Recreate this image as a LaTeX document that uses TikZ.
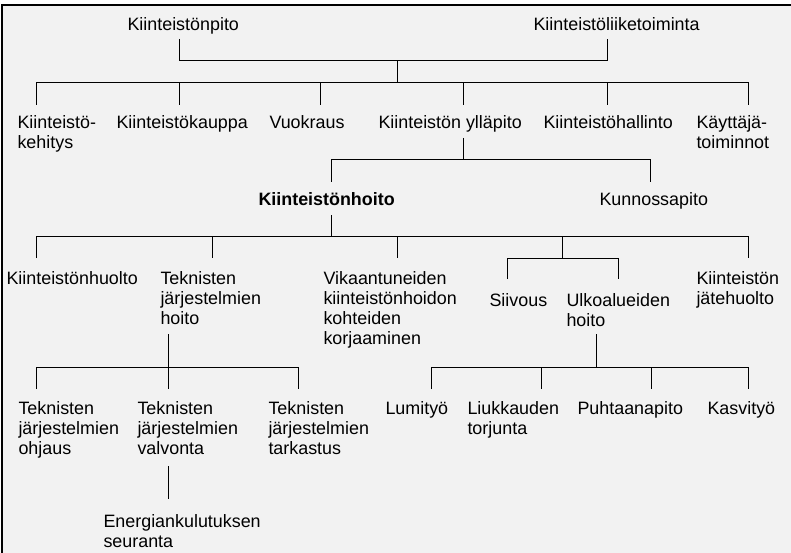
\documentclass[tikz,border=0pt]{standalone}
\usepackage{fontspec}
\setmainfont{Liberation Sans}
\definecolor{bgc}{RGB}{242,242,242}
\newcommand\mlines[1]{\begin{tabular}[t]{@{}l@{}}#1\end{tabular}}
\begin{document}
\begin{tikzpicture}[x=1pt,y=-1pt,line width=1pt,
  lbl/.style={anchor=base west,inner sep=0pt,font=\fontsize{17.9}{20}\selectfont},
  conn/.style={draw=black,line width=1pt}]
\useasboundingbox (0,0) rectangle (791,553);
\fill[white] (0,0) rectangle (791,553);
\fill[bgc] (2,5) rectangle (791,553);
\draw[line width=2pt] (2,553) -- (2,5) -- (791,5);

% level 0
\node[lbl] (pito) at (127,31) {Kiinteistönpito};
\node[lbl] (liike) at (533,31) {Kiinteistöliiketoiminta};
% level 1
\node[lbl] (kehitys) at (17,129) {\mlines{Kiinteistö-\\kehitys}};
\node[lbl] (kauppa) at (116,129) {Kiinteistökauppa};
\node[lbl] (vuokraus) at (269,129) {Vuokraus};
\node[lbl] (yllapito) at (378,129) {Kiinteistön ylläpito};
\node[lbl] (hallinto) at (543,129) {Kiinteistöhallinto};
\node[lbl] (kayttaja) at (696,129) {\mlines{Käyttäjä-\\toiminnot}};
% level 2
\node[lbl,font=\fontsize{17.9}{20}\selectfont\bfseries] (hoito) at (258,205) {Kiinteistönhoito};
\node[lbl] (kunnossa) at (599,205) {Kunnossapito};
% level 3
\node[lbl] (huolto) at (6,284) {Kiinteistönhuolto};
\node[lbl] (tekhoito) at (160,284) {\mlines{Teknisten\\järjestelmien\\hoito}};
\node[lbl] (vika) at (323,284) {\mlines{Vikaantuneiden\\kiinteistönhoidon\\kohteiden\\korjaaminen}};
\node[lbl] (siivous) at (489,306) {Siivous};
\node[lbl] (ulko) at (566,306) {\mlines{Ulkoalueiden\\hoito}};
\node[lbl] (jate) at (696,284) {\mlines{Kiinteistön\\jätehuolto}};
% level 4
\node[lbl] (ohjaus) at (18,414) {\mlines{Teknisten\\järjestelmien\\ohjaus}};
\node[lbl] (valvonta) at (137,414) {\mlines{Teknisten\\järjestelmien\\valvonta}};
\node[lbl] (tarkastus) at (268,414) {\mlines{Teknisten\\järjestelmien\\tarkastus}};
\node[lbl] (lumi) at (385,414) {Lumityö};
\node[lbl] (liuk) at (467,414) {\mlines{Liukkauden\\torjunta}};
\node[lbl] (puht) at (577,414) {Puhtaanapito};
\node[lbl] (kasvi) at (707,414) {Kasvityö};
% level 5
\node[lbl] (energia) at (103,527) {\mlines{Energiankulutuksen\\seuranta}};

% connector coordinates
\coordinate (pitoB) at (179,39);
\coordinate (liikeB) at (607,39);
\coordinate (j0) at (397,61);
\coordinate (bar1) at (397,83);
\coordinate (kehitysT) at (36,105);
\coordinate (kauppaT) at (179,105);
\coordinate (vuokrausT) at (320,105);
\coordinate (yllapitoT) at (463,105);
\coordinate (hallintoT) at (607,105);
\coordinate (kayttajaT) at (748,105);

\coordinate (yllapitoB) at (463,138);
\coordinate (bar2) at (463,160);
\coordinate (hoitoT) at (331,182);
\coordinate (kunnossaT) at (650,182);

\coordinate (hoitoB) at (331,215);
\coordinate (bar3) at (331,236);
\coordinate (huoltoT) at (36,258);
\coordinate (tekhoitoT) at (212,258);
\coordinate (vikaT) at (397,258);
\coordinate (subT) at (562,258);
\coordinate (jateT) at (748,258);
\coordinate (siivousT) at (507,279);
\coordinate (ulkoT) at (618,279);

\coordinate (tekhoitoB) at (168,334);
\coordinate (bar4) at (168,367);
\coordinate (ohjausT) at (36,389);
\coordinate (valvontaT) at (168,389);
\coordinate (tarkastusT) at (298,389);

\coordinate (ulkoB) at (596,334);
\coordinate (bar5) at (596,367);
\coordinate (lumiT) at (431,389);
\coordinate (liukT) at (541,389);
\coordinate (puhtT) at (651,389);
\coordinate (kasviT) at (748,389);

\coordinate (valvontaB) at (168,466);
\coordinate (energiaT) at (168,499);

% connectors
\draw[conn] (pitoB) -- (pitoB |- j0) -- (liikeB |- j0) -- (liikeB);
\draw[conn] (j0) -- (bar1);
\draw[conn] (kehitysT) -- (kehitysT |- bar1) -- (kayttajaT |- bar1) -- (kayttajaT);
\foreach \c in {kauppaT,vuokrausT,yllapitoT,hallintoT} \draw[conn] (\c |- bar1) -- (\c);

\draw[conn] (yllapitoB) -- (bar2);
\draw[conn] (hoitoT) -- (hoitoT |- bar2) -- (kunnossaT |- bar2) -- (kunnossaT);

\draw[conn] (hoitoB) -- (bar3);
\draw[conn] (huoltoT) -- (huoltoT |- bar3) -- (jateT |- bar3) -- (jateT);
\foreach \c in {tekhoitoT,vikaT,subT} \draw[conn] (\c |- bar3) -- (\c);
\draw[conn] (siivousT) -- (siivousT |- subT) -- (ulkoT |- subT) -- (ulkoT);

\draw[conn] (tekhoitoB) -- (bar4);
\draw[conn] (ohjausT) -- (ohjausT |- bar4) -- (tarkastusT |- bar4) -- (tarkastusT);
\draw[conn] (valvontaT |- bar4) -- (valvontaT);

\draw[conn] (ulkoB) -- (bar5);
\draw[conn] (lumiT) -- (lumiT |- bar5) -- (kasviT |- bar5) -- (kasviT);
\foreach \c in {liukT,puhtT} \draw[conn] (\c |- bar5) -- (\c);

\draw[conn] (valvontaB) -- (energiaT);
\end{tikzpicture}
\end{document}
